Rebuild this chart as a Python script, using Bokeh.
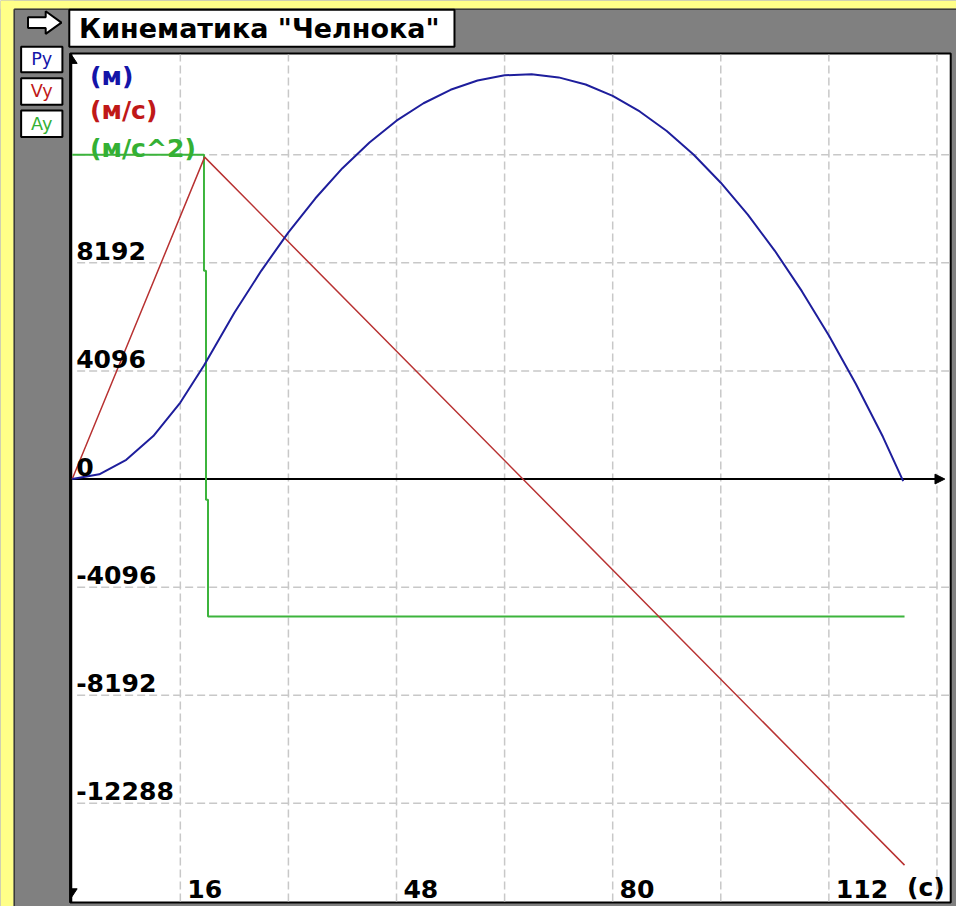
from bokeh.plotting import figure
from bokeh.models import Range1d
from bokeh.core.properties import value
from bokeh.embed import file_html
from bokeh.resources import INLINE

# ---------------- data ----------------
# position (blue, "(м)")
time_pos = [0, 4, 8, 12, 16, 19.5, 24, 28, 32, 36, 40, 44, 48, 52, 56, 60, 64,
            68, 72, 76, 80, 84, 88, 92, 96, 100, 104, 108, 112, 116, 120, 123]
pos_m = [0, 180, 730, 1630, 2900, 4300, 6300, 7900, 9350, 10640, 11780, 12750,
         13580, 14240, 14750, 15100, 15300, 15340, 15220, 14950, 14520, 13930,
         13190, 12290, 11230, 10020, 8650, 7120, 5440, 3600, 1600, -80]
# velocity (red, "(м/с)")
time_vel = [0, 19.6, 123.2]
vel_ms = [0, 12200, -14630]
# acceleration (green, "(м/с^2)")
time_acc = [0, 19.5, 19.5, 19.8, 19.8, 20.1, 20.1, 123.2]
acc_ms2 = [12288, 12288, 7890, 7890, -780, -780, -5210, -5210]

x_grid_ticks = [16, 32, 48, 64, 80, 96, 112, 128]
x_label_ticks = [16, 48, 80, 112]
x_label_text = ["16", "48", "80", "112"]
y_grid_ticks = [12288, 8192, 4096, -4096, -8192, -12288]
y_label_ticks = [8192, 4096, 0, -4096, -8192, -12288]
y_label_text = ["8192", "4096", "0", "-4096", "-8192", "-12288"]

series_labels = ["(м)", "(м/с)", "(м/с^2)"]
button_labels = ["Py", "Vy", "Ay"]
title_text = 'Кинематика "Челнока"'
x_unit = "(с)"

# ---------------- styling / layout ----------------
# the whole 973x922 window is drawn scaled into a 956x906 figure
REF_W, REF_H = 973, 922
S = 906.0 / REF_H
W, H = round(REF_W * S), 906

X_ZERO_PX = 73.0            # window px of t = 0
PX_PER_S = 6.875            # window px per second
Y_ZERO_PX = 487.0           # window px of value 0
PX_PER_UNIT = 110.0 / 4096.0
PLOT_L, PLOT_R, PLOT_T, PLOT_B = 71, 967, 54, 918

YELLOW = "#ffff88"
GRAY = "#808080"
GRID = "#c8c8c8"
BLUE = "#1e1e9c"
RED = "#b83232"
GREEN = "#3cb43c"
LBL_BLUE = "#1414a8"
LBL_RED = "#c01818"
LBL_GREEN = "#34b034"
FONT = value("DejaVu Sans")


def fs(n):
    return "%.1fpx" % (n * S)


def t_at(px):
    return (px - X_ZERO_PX) / PX_PER_S


def v_at(py):
    return (Y_ZERO_PX - py) / PX_PER_UNIT


p = figure(width=W, height=H,
           x_range=Range1d(t_at(0), t_at(W / S)),
           y_range=Range1d(v_at(H / S), v_at(0)),
           output_backend="svg", toolbar_location=None, min_border=0,
           x_axis_location=None, y_axis_location=None, title=None,
           background_fill_color=GRAY, border_fill_color=GRAY,
           outline_line_color=None)
p.grid.visible = False
p.extra_x_ranges = {"px": Range1d(0, W / S)}
p.extra_y_ranges = {"px": Range1d(H / S, 0)}
PX = dict(x_range_name="px", y_range_name="px")

# ---- window chrome ----
p.quad(left=[0], right=[13.5], top=[0], bottom=[REF_H],
       fill_color=YELLOW, line_color=None, **PX)
p.quad(left=[0], right=[REF_W], top=[0], bottom=[8.5],
       fill_color=YELLOW, line_color=None, **PX)
p.line([14, 14], [9, REF_H], line_color="#3a3a3a", line_width=1.5, **PX)
p.line([14, REF_W], [9, 9], line_color="#3a3a3a", line_width=1.5, **PX)

# title box
p.quad(left=[70], right=[462], top=[9.5], bottom=[47], fill_color="white",
       line_color="black", line_width=2, **PX)
p.text(x=[80], y=[29], text=[title_text], text_font=FONT,
       text_font_style="bold", text_font_size=fs(27.5), text_color="black",
       text_align="left", text_baseline="middle", **PX)

# arrow icon
p.patch([28, 46, 46, 62, 46, 46, 28], [17, 17, 11, 22.5, 34, 28, 28],
        fill_color="white", line_color="black", line_width=2, **PX)

# buttons
p.quad(left=[21, 21, 21], right=[63, 63, 63], top=[47, 79, 112],
       bottom=[73, 106, 139], fill_color="white", line_color="black",
       line_width=2, **PX)
p.text(x=[42, 42, 42], y=[60, 92.5, 125.5], text=button_labels,
       text_color=[LBL_BLUE, LBL_RED, LBL_GREEN], text_font=FONT,
       text_font_size=fs(18), text_align="center", text_baseline="middle",
       **PX)

# plot area
p.quad(left=[PLOT_L], right=[PLOT_R], top=[PLOT_T], bottom=[PLOT_B],
       fill_color="white", line_color="black", line_width=2, **PX)
p.line([71.5, 71.5], [PLOT_T, PLOT_B], line_color="black", line_width=3, **PX)

# ---- grid ----
n = len(x_grid_ticks)
p.segment(x0=x_grid_ticks, y0=[v_at(PLOT_B - 1)] * n,
          x1=x_grid_ticks, y1=[v_at(PLOT_T + 1)] * n,
          line_color=GRID, line_dash="8 4", line_width=1.5)
m = len(y_grid_ticks)
p.segment(x0=[t_at(78)] * m, y0=y_grid_ticks, x1=[t_at(PLOT_R - 1)] * m,
          y1=y_grid_ticks, line_color=GRID, line_dash="8 4", line_width=1.5)

# ---- axes ----
p.line([0, t_at(953)], [0, 0], line_color="black", line_width=2)
p.patch([951, 961, 951], [482, 487, 492], fill_color="black",
        line_color="black", **PX)
p.patch([72, 78, 72], [55, 64, 64], fill_color="black", line_color="black",
        **PX)
p.patch([72, 78, 72], [904, 904, 913], fill_color="black", line_color="black",
        **PX)

# ---- series ----
p.line(time_acc, acc_ms2, line_color=GREEN, line_width=2)
p.line(time_vel, vel_ms, line_color=RED, line_width=1.5)
p.line(time_pos, pos_m, line_color=BLUE, line_width=2)

# ---- tick labels (text centre ~13 window px above each grid line) ----
p.text(x=[t_at(77)] * len(y_label_ticks),
       y=[v + 12.5 / PX_PER_UNIT for v in y_label_ticks], text=y_label_text,
       text_font=FONT, text_font_style="bold", text_font_size=fs(25.5),
       text_color="black", text_align="left", text_baseline="middle")
p.text(x=[t + 7 / PX_PER_S for t in x_label_ticks], y=[904] * len(x_label_ticks),
       text=x_label_text, y_range_name="px", text_font=FONT,
       text_font_style="bold", text_font_size=fs(25.5), text_color="black",
       text_align="left", text_baseline="middle")
p.text(x=[961], y=[903], text=[x_unit], text_font=FONT,
       text_font_style="bold", text_font_size=fs(25.5), text_color="black",
       text_align="right", text_baseline="middle", **PX)

# ---- series unit labels ----
p.text(x=[91, 91, 91], y=[77, 112, 151], text=series_labels,
       text_color=[LBL_BLUE, LBL_RED, LBL_GREEN], text_font=FONT,
       text_font_style="bold", text_font_size=fs(25.5), text_align="left",
       text_baseline="middle", **PX)

open("out.html", "w").write(file_html(p, INLINE))
